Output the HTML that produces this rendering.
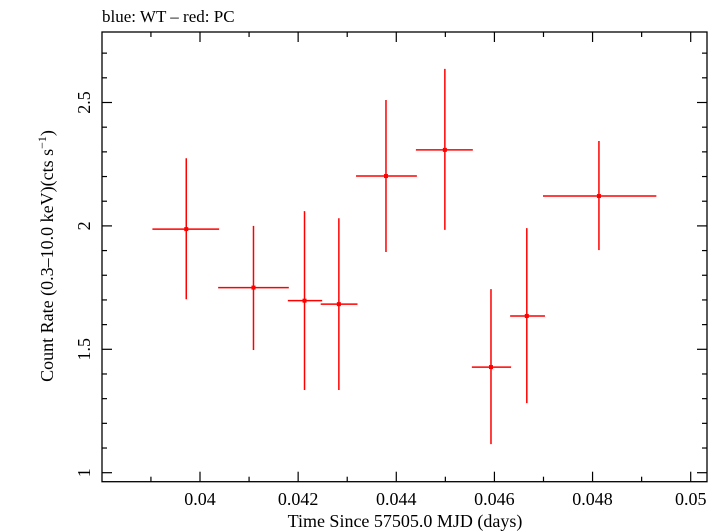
<!DOCTYPE html>
<html><head><meta charset="utf-8"><style>
body{margin:0;background:#fff}
svg{display:block;font-family:"Liberation Serif",serif}
</style></head><body>
<svg id="c" width="723" height="532">
<text x="102" y="22" font-size="17">blue: WT – red: PC</text>
<rect x="102" y="32" width="605" height="449.7" fill="none" stroke="#000" stroke-width="1.3"/>
<g id="ticks"></g>
<g id="marks"></g>
<text x="405" y="527" font-size="18" text-anchor="middle">Time Since 57505.0 MJD (days)</text>
<text transform="translate(53,256) rotate(-90)" font-size="18" text-anchor="middle">Count Rate (0.3–10.0 keV)(cts s<tspan dy="-7" font-size="12">−1</tspan><tspan dy="7">)</tspan></text>
</svg>
<script>
const xCenters=[0.03972,0.04109,0.04213,0.04283,0.04379,0.04499,0.04593,0.04666,0.04813];
const xLow=[0.03903,0.04037,0.04179,0.04246,0.04318,0.0444,0.04554,0.04632,0.04699];
const xHigh=[0.04039,0.04181,0.04249,0.04321,0.04442,0.04556,0.04634,0.04703,0.0493];
const rates=[1.987,1.750,1.697,1.683,2.202,2.308,1.428,1.635,2.121];
const rateLow=[1.703,1.497,1.335,1.335,1.894,1.984,1.116,1.282,1.902];
const rateHigh=[2.274,2.0,2.06,2.031,2.51,2.636,1.744,1.991,2.344];
const xTickLabels=["0.04","0.042","0.044","0.046","0.048","0.05"];
const yTickLabels=["1","1.5","2","2.5"];
const NS="http://www.w3.org/2000/svg";
function X(v){return 200+(v-0.04)*49070;}
function Y(v){return 472.7-(v-1)*246.8;}
function mk(tag,attrs,parent){const e=document.createElementNS(NS,tag);for(const k in attrs)e.setAttribute(k,attrs[k]);parent.appendChild(e);return e;}
const T=document.getElementById('ticks'),M=document.getElementById('marks');
const L=102,R=707,TOP=32,B=481.7;
for(let i=0;i<=12;i++){const v=0.038+i*0.001;const x=X(v);if(x<L+1||x>R-1)continue;const maj=Math.abs(Math.round(v*1000)%2)===0;const len=maj?10:5;
const a=mk('line',{x1:x,x2:x,y1:B,y2:B-len,stroke:'#000','stroke-width':1.2},T);

const b=mk('line',{x1:x,x2:x,y1:TOP,y2:TOP+len,stroke:'#000','stroke-width':1.2},T);
}
xTickLabels.forEach(s=>{const t=mk('text',{x:X(parseFloat(s)),y:505,'font-size':18,'text-anchor':'middle'},T);t.textContent=s;
});
for(let i=0;i<=18;i++){const v=0.9+i*0.1;const y=Y(v);if(y<TOP+1||y>B-1)continue;const maj=Math.abs(Math.round(v*10)%5)===0;const len=maj?10:5;
const a=mk('line',{x1:L,x2:L+len,y1:y,y2:y,stroke:'#000','stroke-width':1.2},T);

const b=mk('line',{x1:R,x2:R-len,y1:y,y2:y,stroke:'#000','stroke-width':1.2},T);
}
yTickLabels.forEach(s=>{const t=mk('text',{transform:`translate(90,${Y(parseFloat(s))}) rotate(-90)`,'font-size':18,'text-anchor':'middle'},T);t.textContent=s;
});
rates.forEach((r,i)=>{const g=mk('g',{},M);

mk('line',{x1:X(xLow[i]),x2:X(xHigh[i]),y1:Y(r),y2:Y(r),stroke:'#f00','stroke-width':1.5},g);
mk('line',{x1:X(xCenters[i]),x2:X(xCenters[i]),y1:Y(rateLow[i]),y2:Y(rateHigh[i]),stroke:'#f00','stroke-width':1.5},g);
mk('rect',{x:X(xCenters[i])-2,y:Y(r)-2,width:4,height:4,fill:'#f00'},g);});
</script>
</body></html>
